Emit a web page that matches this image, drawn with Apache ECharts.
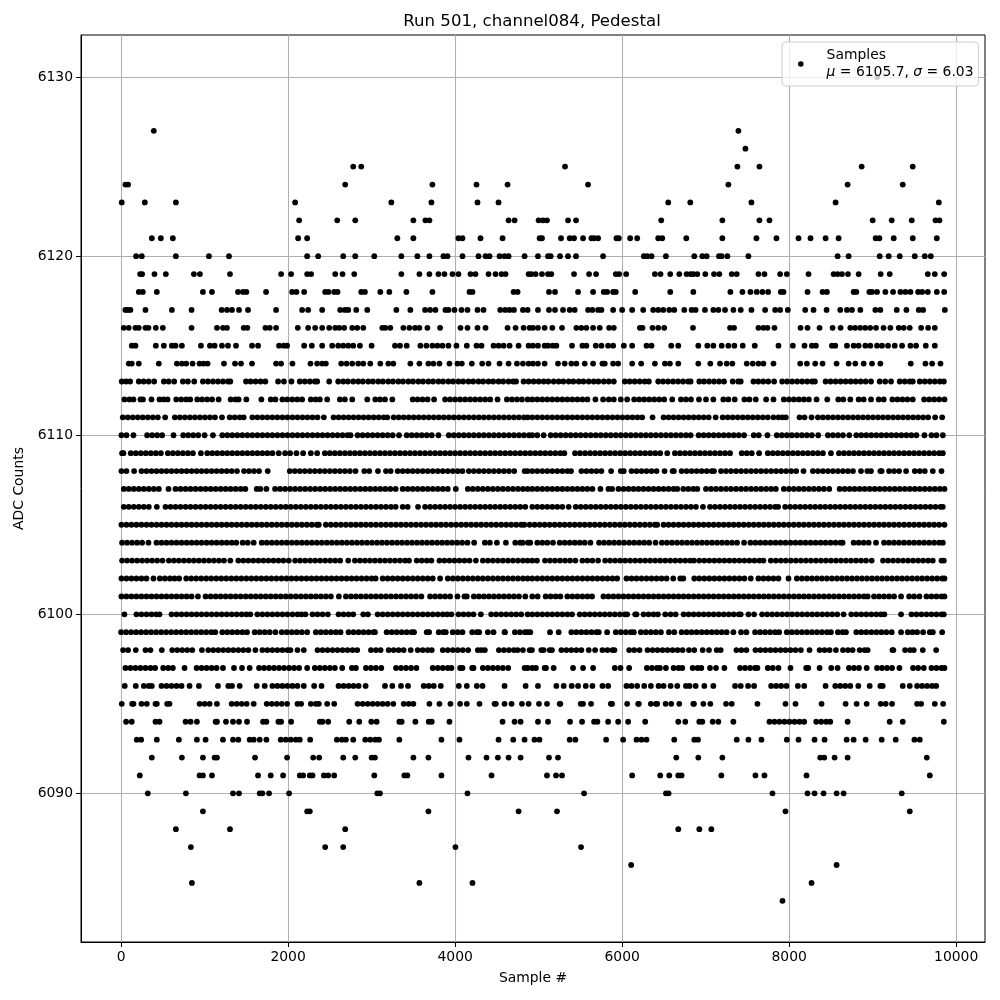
<!DOCTYPE html>
<html><head><meta charset="utf-8">
<style>html,body{margin:0;padding:0;background:#fff}#c{width:1000px;height:1000px}</style>
<script src="https://cdn.jsdelivr.net/npm/echarts@6/dist/echarts.min.js"></script>
</head><body><div id="c"></div>
<script>
const titleText = "Run 501, channel084, Pedestal";
const xName = "Sample #";
const yName = "ADC Counts";
const xTicks = [0,2000,4000,6000,8000,10000];
const yTicks = [6090,6100,6110,6120,6130];

const r6130=[9054];
const r6127=[392,7392];
const r6126=[7476];
const r6125=[2780,2876,5316,7380,7644,8868,9480];
const r6124=[52,84,2684,3728,4256,4628,5592,7272,8700,9360];
const r6123=[8,284,656,2084,3236,3716,4268,4520,6552,6816,7548,8556,9792];
const r6122=[2132,2588,2804,3500,3644,3692,4640,4712,5000,5052,5100,5352,5448,6468,7200,7644,7764,9000,9228,9468,9752,9800];
const r6121=[368,476,620,2120,2228,3308,3500,4040,4088,4304,4568,5012,5040,5268,5372,5424,5532,5632,5664,5712,5932,5960,6096,6180,6432,6480,6768,7200,7608,7848,8112,8256,8436,8592,9036,9080,9252,9480,9768];
const r6120=[180,248,656,1052,1292,2228,2360,2660,2804,3032,3356,3548,3692,3860,3908,4088,4280,4364,4412,4532,4592,4640,4832,4992,5112,5144,5256,5352,5448,5772,6260,6300,6352,6524,6864,6960,7012,7160,7192,7260,7512,8580,8712,9084,9192,9324,9504,9624,9696];
const r6119=[228,252,400,536,872,944,1304,1916,2036,2228,2276,2564,2652,2792,3356,3572,3692,3800,3872,3968,4040,4184,4244,4400,4484,4556,4604,4880,4912,4964,5040,5112,5152,5424,5604,5688,5924,5964,6048,6392,6460,6576,6684,6772,6820,6852,6900,6996,7100,7164,7312,7372,7632,7704,7892,7972,8232,8532,8580,8632,8704,8832,9096,9204,9660,9744,9856];
const r6118=[212,260,428,980,1088,1400,1460,1500,1736,2048,2100,2192,2444,2484,2552,2592,2876,2920,3104,3212,3416,3728,4172,4208,4700,4748,5124,5196,5472,5652,5780,5820,5892,5924,6156,6576,6852,7296,7440,7536,7612,7680,7748,7900,7932,8220,8400,8452,8772,8804,8960,8992,9052,9152,9244,9332,9392,9452,9544,9592,9660,9768,9856];
const r6117=[52,80,112,292,608,844,1204,1268,1328,1412,1520,1856,2168,2240,2408,2624,2680,2720,2816,2948,3296,3464,3640,3700,3764,3884,3920,3992,4076,4148,4268,4340,4540,4600,4652,4704,4812,4868,4992,5124,5196,5292,5372,5432,5592,5644,5712,5752,5892,6000,6120,6252,6372,6432,6492,6564,6624,6744,6832,6880,6992,7092,7152,7232,7332,7420,7548,7712,7832,7892,7984,8192,8292,8448,8612,8692,8752,8852,9032,9092,9288,9404,9552,9604,9864];
const r6116=[32,92,172,212,292,328,416,500,844,1148,1220,1268,1468,1512,1728,1780,1856,2116,2240,2324,2408,2492,2564,2612,2672,2768,2828,2900,3128,3164,3224,3380,3452,3520,3572,3668,3820,4064,4148,4268,4364,4628,4724,4820,4892,4932,4992,5072,5164,5280,5452,5512,5572,5652,5732,5844,5900,6212,6244,6364,6432,6504,6848,7292,7340,7632,7692,7740,7824,8136,8220,8364,8520,8616,8732,8790,8850,8910,8970,9040,9130,9212,9312,9372,9444,9580,9664,9744];
const r6115=[128,172,416,512,608,652,728,956,1064,1120,1208,1280,1376,1568,1640,1892,1948,1988,2192,2284,2408,2528,2600,2660,2720,2780,2860,3000,3280,3340,3420,3584,3656,3728,3788,3848,3920,4016,4140,4256,4316,4460,4520,4580,4652,4760,4880,4932,4992,5072,5112,5168,5212,5400,5524,5572,5684,5752,5832,5892,6020,6120,6292,6352,6588,6672,6912,7020,7092,7192,7272,7344,7444,7588,7872,8044,8184,8272,8320,8512,8552,8692,8772,8832,8912,8972,9052,9112,9184,9264,9352,9452,9520,9636,9744];
const r6114=[92,128,212,452,668,728,780,856,940,988,1036,1232,1364,1436,1568,1856,1916,2052,2268,2348,2408,2452,2636,2700,2768,2840,2900,2984,3104,3200,3260,3464,3572,3680,3740,3812,3932,4028,4080,4200,4324,4400,4532,4640,4740,4812,4880,4932,4992,5072,5232,5312,5392,5452,5552,5652,5764,5792,5892,5952,6120,6228,6392,6512,6572,6672,6912,7056,7172,7252,7320,7492,7564,7632,7692,7812,8132,8212,8312,8400,8568,8712,8792,8892,8992,9092,9456,9632,9712,9812];
const r6113=[8,60,108,212,270,330,396,512,570,636,740,800,876,980,1040,1100,1160,1220,1280,1308,1496,1550,1610,1670,1728,1880,1950,2040,2140,2200,2260,2320,2348,2492,2600,2660,2716,2780,2840,2896,2960,3016,3080,3136,3200,3256,3320,3376,3440,3496,3560,3616,3680,3736,3800,3856,3920,3976,4040,4096,4160,4216,4280,4336,4400,4456,4520,4576,4640,4696,4730,4820,4880,4940,5000,5060,5116,5180,5240,5296,5360,5416,5480,5536,5600,5660,5716,5780,5840,5900,6032,6090,6150,6210,6270,6320,6432,6490,6550,6610,6670,6730,6790,6820,6924,6980,7040,7100,7160,7220,7324,7390,7420,7572,7630,7690,7750,7820,7916,7976,8036,8096,8156,8216,8276,8308,8436,8496,8556,8616,8676,8736,8796,8856,8916,8980,9084,9150,9220,9324,9384,9444,9480,9564,9624,9684,9744,9804,9852];
const r6112=[40,100,148,232,262,364,460,510,556,660,720,780,828,912,970,1030,1090,1168,1312,1370,1408,1500,1680,1792,1848,1932,1990,2050,2110,2168,2272,2330,2380,2468,2620,2680,2768,2948,3044,3100,3160,3248,3492,3550,3610,3670,3748,3880,3940,4000,4060,4120,4180,4240,4300,4360,4420,4508,4620,4680,4740,4800,4868,4924,4984,5044,5104,5164,5224,5284,5344,5404,5464,5524,5584,5680,5772,5840,5900,5984,6060,6144,6204,6264,6324,6384,6444,6504,6600,6704,6764,6824,6920,7004,7092,7212,7272,7348,7464,7524,7600,7724,7812,7936,7996,8056,8116,8176,8236,8328,8456,8588,8648,8732,8832,8892,8980,9072,9132,9236,9296,9356,9416,9480,9616,9676,9736,9796,9860];
const r6111=[20,80,140,200,260,320,380,440,528,644,704,764,824,884,944,1004,1064,1124,1208,1300,1360,1420,1468,1572,1632,1692,1752,1812,1872,1932,1992,2052,2112,2172,2232,2292,2352,2428,2544,2604,2664,2724,2784,2844,2904,2964,3024,3084,3144,3188,3264,3324,3384,3444,3504,3564,3624,3684,3744,3804,3864,3924,3984,4044,4104,4164,4224,4284,4344,4404,4464,4524,4584,4644,4704,4764,4824,4868,4924,4984,5044,5104,5164,5224,5284,5344,5404,5464,5524,5584,5644,5704,5764,5824,5884,5944,6004,6064,6124,6184,6240,6364,6496,6556,6616,6676,6736,6796,6856,6916,6976,7036,7120,7204,7264,7324,7384,7444,7504,7564,7624,7684,7744,7812,7872,7920,7960,8124,8184,8268,8344,8404,8464,8524,8584,8644,8704,8764,8824,8884,8944,9004,9064,9124,9184,9244,9304,9364,9424,9484,9544,9604,9664,9748,9832];
const r6110=[4,64,148,312,372,432,492,628,744,804,864,924,1000,1100,1212,1272,1332,1392,1452,1512,1572,1632,1692,1752,1812,1872,1932,1992,2052,2112,2172,2232,2292,2352,2412,2472,2532,2592,2652,2712,2748,2832,2892,2952,3012,3072,3132,3192,3252,3328,3420,3480,3540,3600,3660,3720,3800,3924,3984,4044,4104,4164,4224,4284,4344,4404,4464,4524,4584,4644,4704,4764,4824,4884,4924,4984,5060,5144,5204,5264,5324,5384,5444,5504,5564,5624,5684,5744,5804,5864,5924,5984,6044,6104,6164,6224,6284,6344,6404,6464,6524,6584,6644,6704,6764,6820,6916,6976,7036,7096,7156,7216,7276,7336,7396,7460,7576,7636,7740,7852,7912,7972,8032,8092,8152,8212,8272,8348,8464,8524,8584,8644,8720,8804,8864,8924,8984,9044,9104,9164,9224,9284,9344,9404,9464,9524,9620,9704,9764,9840];
const r6109=[12,28,116,176,236,296,356,416,476,560,620,680,740,800,860,956,1032,1092,1152,1212,1272,1332,1392,1452,1512,1572,1632,1692,1752,1812,1888,1964,2024,2100,2180,2272,2348,2440,2500,2560,2620,2680,2740,2800,2860,2920,2980,3040,3100,3160,3220,3280,3340,3400,3460,3520,3580,3640,3700,3760,3820,3880,3940,4000,4060,4120,4180,4240,4300,4360,4420,4480,4540,4600,4660,4720,4780,4840,4900,4960,5020,5080,5140,5200,5260,5308,5436,5496,5556,5616,5676,5736,5796,5856,5916,5976,6036,6096,6156,6216,6276,6336,6396,6456,6540,6632,6692,6752,6812,6872,6932,6992,7052,7112,7172,7232,7292,7432,7492,7552,7640,7744,7804,7864,7924,7984,8044,8104,8164,8224,8284,8344,8404,8500,8596,8656,8716,8776,8836,8896,8956,9016,9076,9136,9196,9256,9316,9376,9436,9496,9556,9616,9676,9736,9796,9840];
const r6108=[4,64,156,244,304,364,424,484,544,604,664,724,784,844,904,964,1024,1084,1144,1204,1264,1324,1388,1472,1532,1592,1652,1756,2020,2080,2140,2200,2260,2320,2380,2440,2500,2560,2620,2680,2740,2808,2912,2972,3076,3172,3228,3312,3372,3432,3492,3552,3612,3672,3732,3792,3852,3912,3972,4032,4088,4164,4224,4284,4344,4404,4464,4524,4584,4644,4708,4832,4868,4924,4984,5044,5104,5164,5224,5284,5344,5388,5512,5572,5632,5692,5752,5868,5984,6020,6112,6172,6232,6292,6352,6412,6508,6604,6620,6712,6772,6832,6892,6952,7012,7072,7100,7184,7244,7304,7364,7424,7484,7544,7604,7664,7724,7784,7844,7904,7964,8024,8084,8172,8284,8344,8404,8464,8524,8584,8644,8704,8764,8860,8936,8980,9092,9108,9196,9256,9316,9400,9504,9564,9624,9720,9824];
const r6107=[32,92,152,212,272,332,392,452,568,652,712,772,832,892,952,1012,1072,1132,1192,1252,1312,1372,1432,1488,1624,1668,1740,1844,1904,1964,2024,2084,2144,2204,2264,2324,2384,2444,2504,2564,2624,2684,2744,2804,2864,2924,2984,3044,3104,3164,3224,3288,3372,3432,3492,3552,3612,3672,3732,3792,3852,3912,4008,4152,4212,4272,4332,4392,4452,4512,4572,4632,4692,4752,4812,4868,4924,4984,5044,5104,5164,5224,5284,5344,5404,5464,5524,5584,5644,5740,5836,5880,5956,6016,6076,6136,6196,6256,6316,6376,6436,6496,6556,6616,6660,6732,6792,6852,6900,7004,7064,7124,7184,7244,7304,7364,7424,7484,7544,7604,7664,7724,7784,7840,7936,7996,8056,8116,8176,8236,8296,8356,8416,8480,8604,8664,8724,8784,8844,8904,8964,9024,9084,9144,9204,9264,9324,9384,9444,9504,9564,9624,9684,9744,9804,9860];
const r6106=[32,92,152,212,272,332,428,532,592,652,712,772,832,892,952,1012,1072,1132,1192,1252,1312,1372,1432,1492,1552,1612,1672,1732,1792,1852,1912,1972,2032,2092,2152,2212,2272,2332,2392,2452,2512,2572,2632,2692,2752,2812,2872,2932,2992,3052,3112,3172,3232,3288,3372,3432,3556,3640,3700,3760,3820,3880,3940,4000,4060,4120,4180,4240,4300,4360,4420,4480,4540,4600,4660,4720,4780,4840,4924,4984,5044,5104,5164,5224,5284,5360,5444,5504,5564,5624,5684,5744,5804,5864,5924,5984,6044,6104,6164,6224,6284,6344,6404,6464,6524,6584,6644,6704,6764,6824,6884,6968,7052,7112,7172,7232,7292,7352,7412,7472,7532,7592,7652,7712,7772,7832,7868,7952,8012,8072,8132,8192,8252,8312,8372,8432,8492,8552,8612,8672,8732,8792,8852,8912,8972,9032,9092,9152,9212,9272,9332,9392,9452,9512,9572,9632,9692,9752,9812,9840];
const r6105=[4,64,124,184,244,304,364,424,484,544,604,664,724,784,844,904,964,1024,1084,1144,1204,1264,1324,1384,1444,1504,1564,1624,1684,1744,1804,1864,1924,1984,2044,2104,2164,2224,2284,2344,2368,2452,2512,2572,2632,2692,2752,2812,2872,2932,2992,3052,3112,3172,3232,3292,3352,3412,3472,3532,3592,3652,3712,3772,3832,3892,3952,4012,4072,4132,4192,4252,4312,4372,4432,4492,4552,4612,4672,4732,4792,4828,4892,4952,5012,5072,5132,5192,5252,5312,5372,5432,5492,5552,5612,5672,5732,5792,5852,5912,5972,6032,6092,6152,6212,6272,6332,6392,6420,6496,6556,6616,6676,6736,6796,6856,6916,6976,7036,7096,7156,7216,7276,7336,7396,7456,7516,7576,7636,7696,7756,7816,7876,7936,7996,8056,8116,8176,8236,8296,8356,8416,8476,8536,8596,8656,8716,8776,8836,8896,8956,9016,9076,9136,9196,9256,9316,9376,9436,9496,9556,9616,9676,9736,9796,9860];
const r6104=[12,72,132,192,252,328,424,484,544,604,664,724,784,844,904,964,1024,1084,1144,1204,1264,1324,1380,1456,1516,1588,1684,1744,1804,1864,1924,1984,2044,2104,2164,2224,2284,2344,2404,2464,2524,2584,2644,2704,2764,2824,2884,2944,3004,3064,3124,3184,3244,3304,3364,3424,3484,3544,3604,3664,3724,3784,3844,3904,3964,4024,4084,4148,4228,4356,4416,4500,4608,4720,4780,4808,4872,4900,4984,5044,5104,5172,5252,5312,5372,5432,5492,5552,5620,5724,5784,5844,5904,5964,6024,6084,6144,6204,6264,6324,6400,6476,6536,6596,6656,6716,6776,6836,6896,6956,7016,7076,7136,7196,7256,7316,7376,7460,7536,7596,7656,7716,7776,7836,7896,7956,8016,8076,8136,8196,8256,8316,8376,8436,8496,8556,8616,8640,8772,8832,8892,8952,9040,9136,9196,9256,9316,9376,9436,9496,9556,9616,9676,9736,9796,9840];
const r6103=[12,72,132,192,252,312,372,432,496,572,632,692,752,812,872,932,992,1052,1112,1172,1232,1308,1404,1464,1524,1584,1644,1704,1764,1824,1884,1944,2008,2084,2144,2204,2264,2324,2384,2444,2504,2564,2624,2720,2800,2860,2920,2980,3040,3100,3160,3220,3280,3340,3400,3448,3540,3600,3660,3716,3812,3872,3932,3992,4052,4112,4172,4248,4332,4392,4452,4512,4572,4632,4692,4752,4812,4868,4924,4980,5076,5136,5196,5256,5316,5376,5440,5524,5584,5644,5712,5796,5856,5916,5976,6036,6096,6156,6216,6276,6336,6396,6456,6516,6576,6636,6696,6756,6816,6860,6924,6984,7044,7104,7164,7224,7284,7344,7404,7464,7524,7584,7644,7692,7780,7840,7900,7960,8020,8080,8140,8200,8260,8320,8380,8440,8500,8560,8620,8680,8740,8800,8860,8920,8988,9124,9184,9244,9304,9364,9424,9484,9544,9604,9664,9720,9824,9852];
const r6102=[4,64,124,184,244,304,388,464,524,584,640,696,780,840,900,960,1020,1080,1140,1200,1260,1320,1380,1440,1500,1560,1620,1680,1740,1800,1860,1920,1980,2040,2100,2160,2220,2280,2340,2400,2460,2520,2580,2640,2700,2760,2820,2880,2940,3000,3048,3132,3192,3252,3312,3372,3432,3492,3552,3612,3672,3732,3820,3912,3972,4032,4092,4152,4212,4272,4332,4392,4452,4512,4572,4632,4692,4752,4812,4868,4924,4984,5044,5104,5164,5224,5284,5344,5404,5464,5524,5584,5644,5704,5764,5824,5884,5940,6052,6112,6172,6232,6292,6352,6412,6472,6532,6612,6696,6732,6864,6924,6984,7044,7104,7164,7224,7284,7344,7404,7464,7540,7632,7692,7752,7812,7872,7992,8092,8152,8212,8272,8332,8392,8452,8512,8572,8632,8692,8752,8812,8872,8932,8992,9052,9112,9172,9232,9292,9352,9412,9472,9532,9592,9652,9712,9772,9832,9860];
const r6101=[4,64,124,184,244,304,364,424,484,544,604,664,724,784,844,920,1012,1072,1132,1192,1252,1312,1372,1432,1492,1552,1612,1672,1732,1792,1852,1912,1972,2032,2092,2152,2212,2272,2332,2392,2452,2512,2608,2692,2752,2812,2872,2932,2992,3052,3112,3172,3232,3292,3352,3412,3472,3532,3596,3700,3760,3820,3880,3940,4028,4112,4140,4224,4284,4344,4404,4464,4524,4584,4644,4704,4764,4840,4924,4988,5084,5144,5204,5260,5344,5404,5464,5524,5584,5640,5776,5836,5896,5956,6016,6076,6136,6196,6256,6316,6376,6436,6496,6556,6616,6676,6736,6796,6856,6916,6976,7036,7096,7156,7216,7276,7336,7396,7456,7516,7576,7636,7696,7756,7816,7876,7936,7996,8056,8116,8176,8236,8296,8356,8416,8476,8536,8596,8656,8716,8776,8836,8896,8940,9016,9076,9136,9196,9256,9340,9436,9496,9560,9644,9704,9764,9824,9860];
const r6100=[40,184,244,304,364,420,460,604,664,724,784,844,904,964,1024,1084,1144,1204,1264,1324,1384,1444,1500,1548,1632,1692,1752,1812,1872,1932,1992,2052,2112,2160,2208,2292,2352,2412,2476,2604,2664,2724,2780,2900,2956,3072,3132,3192,3252,3312,3372,3432,3492,3552,3612,3672,3732,3792,3852,3904,3956,4040,4100,4160,4220,4308,4432,4492,4552,4612,4672,4732,4792,4868,4924,4984,5044,5104,5164,5224,5284,5344,5400,5492,5552,5612,5672,5732,5792,5852,5912,5972,6032,6060,6156,6172,6256,6316,6376,6428,6516,6580,6640,6736,6796,6856,6916,6976,7036,7096,7156,7216,7276,7336,7396,7420,7512,7580,7676,7736,7796,7856,7916,7976,8036,8096,8156,8216,8276,8336,8396,8456,8516,8576,8652,8744,8804,8864,8924,8984,9044,9100,9140,9340,9464,9524,9584,9644,9704,9764,9824,9852];
const r6099=[0,60,120,180,240,300,360,420,480,540,600,660,720,780,840,900,960,1020,1080,1128,1212,1272,1332,1392,1452,1508,1600,1660,1720,1780,1848,1924,1984,2044,2104,2164,2228,2332,2392,2452,2512,2572,2628,2724,2784,2844,2904,2964,3024,3040,3180,3240,3300,3360,3420,3480,3508,3660,3688,3804,3860,3888,3972,4032,4088,4204,4260,4288,4392,4460,4592,4596,4716,4776,4836,4868,4900,5136,5240,5392,5452,5512,5572,5632,5692,5720,5820,5924,5984,6044,6104,6140,6224,6284,6344,6404,6464,6560,6624,6712,6772,6832,6892,6952,7012,7072,7132,7192,7252,7332,7424,7488,7592,7652,7712,7772,7832,7880,7972,8032,8092,8152,8212,8272,8332,8392,8452,8500,8584,8640,8680,8804,8864,8924,8984,9044,9104,9164,9228,9340,9420,9476,9532,9604,9684,9720,9832];
const r6098=[24,84,176,292,352,488,612,672,732,792,852,968,1044,1104,1164,1224,1284,1344,1404,1464,1524,1608,1692,1752,1812,1872,1932,1992,2028,2112,2188,2352,2412,2472,2532,2592,2652,2712,2772,2828,2992,3052,3108,3204,3264,3324,3384,3468,3552,3612,3672,3720,3852,3912,3972,4032,4092,4156,4272,4314,4356,4524,4584,4644,4704,4748,4812,4892,4920,5032,5060,5132,5160,5272,5332,5392,5452,5512,5600,5676,5764,5824,5884,5908,6084,6144,6208,6304,6364,6424,6484,6544,6604,6664,6724,6800,6864,6964,7040,7132,7180,7368,7428,7488,7596,7656,7716,7776,7836,7896,7956,8016,8076,8140,8244,8364,8424,8484,8560,8644,8704,8760,8844,8904,8940,9236,9248,9388,9448,9492,9600,9760];
const r6097=[52,112,172,232,292,352,408,504,564,620,760,904,964,1024,1084,1144,1220,1352,1448,1540,1652,1712,1772,1832,1892,1952,2012,2072,2132,2228,2320,2380,2440,2500,2560,2648,2764,2812,2932,2992,3052,3116,3292,3352,3412,3472,3536,3732,3792,3852,3912,3956,4060,4088,4204,4220,4332,4392,4452,4512,4572,4636,4832,4868,4924,4968,5072,5088,5180,5412,5532,5652,5912,5980,6084,6296,6356,6416,6452,6524,6616,6676,6720,6844,6904,6948,7052,7124,7224,7412,7472,7532,7592,7620,7744,7804,7872,8016,8204,8228,8364,8504,8580,8716,8776,8836,8928,9052,9112,9172,9232,9320,9484,9544,9612,9704,9764,9824,9860];
const r6096=[44,176,272,332,368,484,544,604,664,724,820,932,1160,1284,1328,1420,1624,1720,1812,1872,1932,1992,2052,2112,2188,2312,2400,2604,2664,2724,2784,2844,2928,3160,3248,3352,3436,3624,3684,3744,3828,4044,4140,4260,4328,4592,4844,4992,5212,5300,5396,5472,5564,5644,5764,5832,6052,6112,6180,6264,6344,6436,6496,6580,6660,6764,6808,6880,6984,7092,7352,7420,7508,7580,7784,7844,7904,7968,8104,8180,8436,8552,8612,8672,8732,8828,8964,9092,9120,9360,9444,9532,9592,9652,9712,9760];
const r6095=[8,132,148,244,308,412,428,552,580,940,1000,1060,1148,1324,1384,1444,1504,1588,1744,1804,1864,1924,1988,2112,2156,2272,2332,2368,2468,2552,2832,2892,2952,3012,3072,3132,3192,3260,3384,3444,3500,3692,3812,3944,4060,4140,4292,4472,4488,4592,4676,4800,4880,5004,5100,5252,5260,5504,5532,5628,5864,5880,6060,6192,6200,6344,6404,6420,6520,6588,6684,6852,6860,6972,7056,7244,7312,7620,7956,8076,8388,8676,8808,8928,9096,9156,9232,9532,9580,9744,9844];
const r6094=[60,128,412,460,772,832,908,1132,1148,1256,1340,1412,1508,1700,1740,1884,1916,2036,2380,2412,2480,2732,2852,2996,3060,3332,3360,3524,3684,3720,3932,4568,4712,4784,4992,5112,5376,5520,5664,5704,5832,5952,6072,6276,6672,6756,6924,6960,7084,7152,7332,7764,7824,7884,7944,8004,8064,8124,8180,8324,8384,8444,8492,8700,9204,9360,9852];
const r6093=[188,240,428,692,908,1012,1220,1340,1404,1540,1588,1660,1740,1912,1972,2032,2092,2140,2264,2584,2644,2692,2780,2924,2984,3044,3088,3332,3836,4052,4520,4696,4832,4950,5010,5372,5440,5808,6012,6172,6232,6292,6624,6864,6908,7372,7512,7668,7972,8112,8304,8424,8688,8772,8916,9108,9276,9500,9564];
const r6092=[368,728,980,1120,1148,1604,1988,2300,2372,2660,2804,3000,3040,3500,3680,4160,4376,4512,4640,4784,5124,5232,6648,6912,7200,8372,8420,8544,8700,9648];
const r6091=[224,940,980,1088,1640,1792,1940,2140,2180,2260,2292,2428,2480,2552,3032,3392,3428,3836,4436,5100,5208,5280,6120,6456,6564,6672,6712,7188,7596,7704,8208,9684];
const r6090=[320,776,1340,1412,1660,1692,1772,2012,3068,3100,4148,5544,6524,6556,7800,8220,8304,8412,8568,8652,9348];
const r6089=[980,2228,2260,3680,4760,5220,7956,9444];
const r6088=[656,1304,2684,6672,6924,7068];
const r6087=[836,2444,2660,4004,5508];
const r6086=[6108,8568];
const r6085=[848,3572,4208,8268];
const r6084=[7920];

const rows=[[6130,r6130],[6127,r6127],[6126,r6126],[6125,r6125],[6124,r6124],[6123,r6123],[6122,r6122],[6121,r6121],[6120,r6120],[6119,r6119],[6118,r6118],[6117,r6117],[6116,r6116],[6115,r6115],[6114,r6114],[6113,r6113],[6112,r6112],[6111,r6111],[6110,r6110],[6109,r6109],[6108,r6108],[6107,r6107],[6106,r6106],[6105,r6105],[6104,r6104],[6103,r6103],[6102,r6102],[6101,r6101],[6100,r6100],[6099,r6099],[6098,r6098],[6097,r6097],[6096,r6096],[6095,r6095],[6094,r6094],[6093,r6093],[6092,r6092],[6091,r6091],[6090,r6090],[6089,r6089],[6088,r6088],[6087,r6087],[6086,r6086],[6085,r6085],[6084,r6084]];
const points=[];
rows.forEach(([y,xs])=>xs.forEach(x=>points.push([x,y])));

const font="DejaVu Sans";
const chart=echarts.init(document.getElementById('c'),null,{renderer:'canvas'});
const axisCommon={
  axisLine:{show:true,onZero:false,lineStyle:{color:'#000',width:1}},
  axisTick:{show:true,length:5,lineStyle:{color:'#000',width:1}},
  splitLine:{show:true,lineStyle:{color:'#b0b0b0',width:1.1}},
  nameTextStyle:{fontFamily:font,fontSize:13.9,color:'#000'}
};
const plain=v=>String(v);
chart.setOption({
  animation:false,
  backgroundColor:'#fff',
  title:{text:titleText,left:527,top:8,textAlign:'center',textStyle:{fontFamily:font,fontSize:16.6,fontWeight:'normal',color:'#000'}},
  grid:{left:81,right:15,top:35,bottom:58,show:true,borderColor:'#000',borderWidth:1,backgroundColor:'#fff'},
  legend:{
    show:true,left:782,top:42,orient:'vertical',
    data:[{name:'Samples',icon:'circle'}],
    itemWidth:5.6,itemHeight:5.6,
    padding:[5,5,5,16],
    backgroundColor:'rgba(255,255,255,0.8)',
    borderColor:'#ccc',borderWidth:1,borderRadius:4,
    selectedMode:false,
    formatter:()=>'{p|}{n|Samples}\n{p|}{i|μ}{n| = 6105.7, }{i|σ}{n| = 6.03}',
    textStyle:{fontFamily:font,fontSize:13.9,color:'#000',lineHeight:17,
      rich:{p:{width:18,height:17},
            n:{fontFamily:font,fontSize:13.9,color:'#000',lineHeight:17},
            i:{fontFamily:font,fontStyle:'italic',fontSize:13.9,color:'#000',lineHeight:17}}}
  },
  xAxis:Object.assign({},axisCommon,{
    type:'value',min:-480,max:10345,name:xName,nameLocation:'middle',nameGap:29,
    axisLabel:{customValues:xTicks,formatter:plain,fontFamily:font,fontSize:13.9,color:'#000',margin:8,showMinLabel:true,showMaxLabel:true},
    axisTick:Object.assign({},axisCommon.axisTick,{customValues:xTicks})
  }),
  yAxis:Object.assign({},axisCommon,{
    type:'value',min:6081.7,max:6132.35,name:yName,nameLocation:'middle',nameGap:45,
    axisLabel:{customValues:yTicks,formatter:plain,fontFamily:font,fontSize:13.9,color:'#000',margin:8},
    axisTick:Object.assign({},axisCommon.axisTick,{customValues:yTicks})
  }),
  series:[{name:'Samples',type:'scatter',data:points,symbol:'circle',symbolSize:5.8,
    itemStyle:{color:'#000',opacity:1},large:false,silent:true,z:3}]
});
</script></body></html>
